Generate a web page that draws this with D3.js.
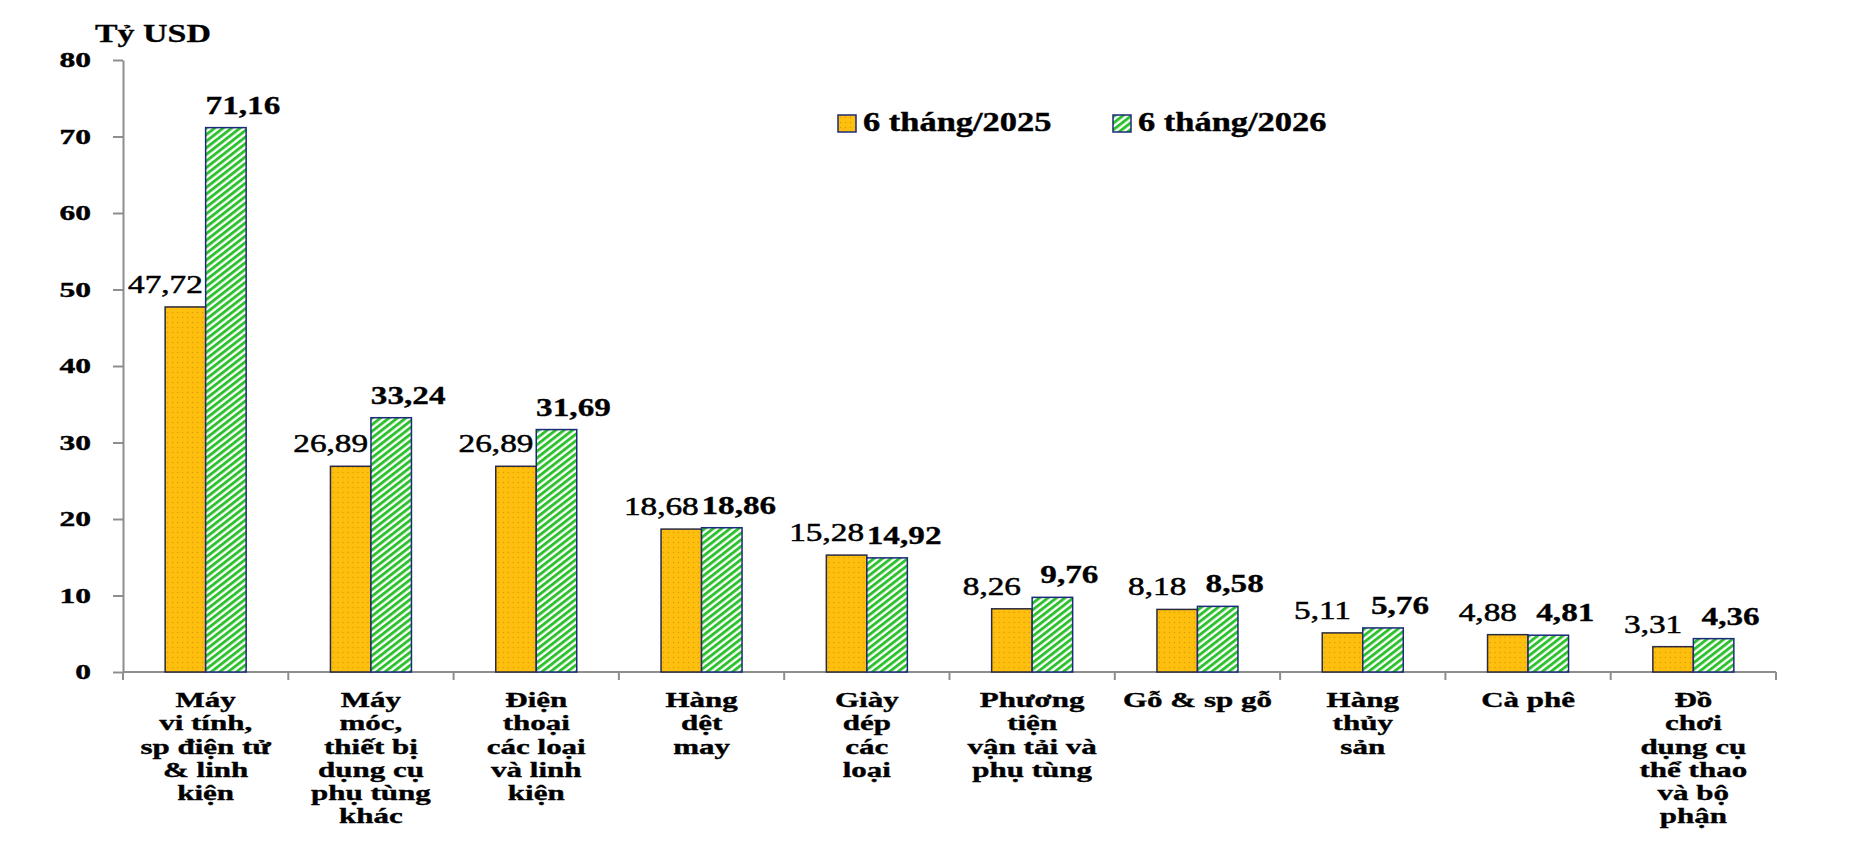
<!DOCTYPE html>
<html>
<head>
<meta charset="utf-8">
<script src="https://cdn.jsdelivr.net/npm/d3@7"></script>
<style>
  body { margin: 0; background: #fff; }
  svg { display: block; font-family: "Liberation Serif", "Times New Roman", serif; }
</style>
</head>
<body>
<div id="container"></div>
<script>
/* DATA */
const categoryLines = [
  ["Máy", "vi tính,", "sp điện tử", "& linh", "kiện"],
  ["Máy", "móc,", "thiết bị", "dụng cụ", "phụ tùng", "khác"],
  ["Điện", "thoại", "các loại", "và linh", "kiện"],
  ["Hàng", "dệt", "may"],
  ["Giày", "dép", "các", "loại"],
  ["Phương", "tiện", "vận tải và", "phụ tùng"],
  ["Gỗ & sp gỗ"],
  ["Hàng", "thủy", "sản"],
  ["Cà phê"],
  ["Đồ", "chơi", "dụng cụ", "thể thao", "và bộ", "phận"]
]
const categories = categoryLines.map(l => l.join(" "))
const values2025 = [47.72, 26.89, 26.89, 18.68, 15.28, 8.26, 8.18, 5.11, 4.88, 3.31]
const values2026 = [71.16, 33.24, 31.69, 18.86, 14.92, 9.76, 8.58, 5.76, 4.81, 4.36]
const seriesNames = ["6 tháng/2025", "6 tháng/2026"]
const yTicks = [0, 10, 20, 30, 40, 50, 60, 70, 80]
const unitLabel = "Tỷ USD"

/* CONSTANTS */
const width = 1870, height = 841
const margin = { top: 60, left: 123, right: 94, bottom: 169 }
const orange = "#FFBF0F", green = "#2EC12E", navy = "#1B2A7A"

const svg = d3.select("#container")
  .append("svg")
  .attr("width", width)
  .attr("height", height)
  .style("background-color", "#fff")

// patterns
const defs = svg.append("defs")
const dots = defs.append("pattern")
  .attr("id", "dots").attr("patternUnits", "userSpaceOnUse")
  .attr("width", 5).attr("height", 5)
dots.append("rect").attr("width", 5).attr("height", 5).attr("fill", orange)
dots.append("circle").attr("cx", 2.5).attr("cy", 2.5).attr("r", 0.7).attr("fill", "#D99A00")

const stripes = defs.append("pattern")
  .attr("id", "stripes").attr("patternUnits", "userSpaceOnUse")
  .attr("width", 10).attr("height", 5.2)
  .attr("patternTransform", "rotate(-38)")
stripes.append("rect").attr("width", 10).attr("height", 5.2).attr("fill", "#fff")
stripes.append("rect").attr("width", 10).attr("height", 2.9).attr("fill", green)

/* SCALES */
const x = d3.scaleBand()
  .domain(categories)
  .range([margin.left, width - margin.right])

const pairWidth = 81
const x1 = d3.scaleBand()
  .domain(seriesNames)
  .range([0, pairWidth])

const y = d3.scaleLinear()
  .domain([0, 80])
  .range([height - margin.bottom, margin.top])

const fills = d3.scaleOrdinal().domain(seriesNames).range(["url(#dots)", "url(#stripes)"])
const strokes = d3.scaleOrdinal().domain(seriesNames).range(["#2a2a40", navy])

/* AXES */
const axisColor = "#8e8e8e"
const sxAxis = 1.5
const yAxis = d3.axisLeft(y).tickValues(yTicks).tickSize(10).tickSizeOuter(0)
svg.append("g")
  .attr("transform", `translate(${margin.left},0)`)
  .call(yAxis)
  .call(g => g.select(".domain").attr("stroke", axisColor).attr("stroke-width", 2))
  .call(g => g.selectAll(".tick line").attr("stroke", axisColor).attr("stroke-width", 2))
  .call(g => g.selectAll(".tick text")
    .attr("x", -32 / sxAxis)
    .attr("transform", `scale(${sxAxis},1)`)
    .attr("fill", "#000")
    .attr("stroke", "#000").attr("stroke-width", 0.4)
    .style("font-size", "21px")
    .style("font-weight", "bold")
    .style("font-family", "'Liberation Serif', 'Times New Roman', serif"))

// x axis line + boundary ticks
const bounds = categories.map(c => x(c)).concat([x.range()[1]])
const xg = svg.append("g")
xg.append("line")
  .attr("x1", x.range()[0]).attr("x2", x.range()[1])
  .attr("y1", y(0)).attr("y2", y(0))
  .attr("stroke", axisColor).attr("stroke-width", 2)
xg.selectAll(".xtick")
  .data(bounds)
  .join("line")
  .attr("class", "xtick")
  .attr("x1", d => d).attr("x2", d => d)
  .attr("y1", y(0)).attr("y2", y(0) + 8)
  .attr("stroke", axisColor).attr("stroke-width", 2)

/* BARS */
const rows = categories.map((c, i) => ({
  cat: c,
  vals: [
    { series: seriesNames[0], v: values2025[i] },
    { series: seriesNames[1], v: values2026[i] }
  ]
}))

const groups = svg.selectAll(".grp")
  .data(rows)
  .join("g")
  .attr("class", "grp")
  .attr("transform", d => `translate(${x(d.cat) + x.bandwidth() / 2 - pairWidth / 2},0)`)

groups.selectAll("rect")
  .data(d => d.vals)
  .join("rect")
  .attr("x", d => x1(d.series))
  .attr("y", d => y(d.v))
  .attr("width", x1.bandwidth())
  .attr("height", d => y(0) - y(d.v))
  .attr("fill", d => fills(d.series))
  .attr("stroke", d => strokes(d.series))
  .attr("stroke-width", 1.5)

// value labels
const sxVal = 1.33
const labelShift = d3.scaleOrdinal().domain(seriesNames).range([-20, 17])
groups.selectAll(".val")
  .data(d => d.vals)
  .join("text")
  .attr("class", "val")
  .attr("transform", d => `translate(${x1(d.series) + x1.bandwidth() / 2 + labelShift(d.series)},${y(d.v) - 14}) scale(${sxVal},1)`)
  .attr("text-anchor", "middle")
  .attr("stroke", "#000")
  .attr("stroke-width", d => d.series === seriesNames[1] ? 0.3 : 0.5)
  .style("font-size", "25px")
  .style("font-weight", d => d.series === seriesNames[1] ? "bold" : "normal")
  .text(d => d.v.toFixed(2).replace(".", ","))

// category labels
const sxCat = 1.55
svg.selectAll(".cat")
  .data(rows)
  .join("text")
  .attr("class", "cat")
  .attr("transform", d => `translate(${x(d.cat) + x.bandwidth() / 2},707) scale(${sxCat},1)`)
  .attr("text-anchor", "middle")
  .attr("stroke", "#000").attr("stroke-width", 0.35)
  .style("font-size", "20px")
  .style("font-weight", "bold")
  .selectAll("tspan")
  .data((d, i) => categoryLines[i])
  .join("tspan")
  .attr("x", 0)
  .attr("dy", (d, i) => i === 0 ? 0 : 23.3)
  .text(d => d)

/* LEGEND */
const legendX = [838, 1113]
const legend = svg.selectAll(".leg")
  .data(seriesNames)
  .join("g")
  .attr("class", "leg")
  .attr("transform", (d, i) => `translate(${legendX[i]},115)`)
legend.append("rect")
  .attr("width", 18).attr("height", 17)
  .attr("fill", d => fills(d))
  .attr("stroke", navy).attr("stroke-width", 1.5)
legend.append("text")
  .attr("transform", "translate(25,16) scale(1.3,1)")
  .attr("stroke", "#000").attr("stroke-width", 0.4)
  .style("font-size", "26.5px")
  .style("font-weight", "bold")
  .text(d => d)

// unit label
svg.append("text")
  .attr("transform", "translate(95,42) scale(1.33,1)")
  .attr("stroke", "#000").attr("stroke-width", 0.3)
  .style("font-size", "25.5px")
  .style("font-weight", "bold")
  .text(unitLabel)
</script>
</body>
</html>
